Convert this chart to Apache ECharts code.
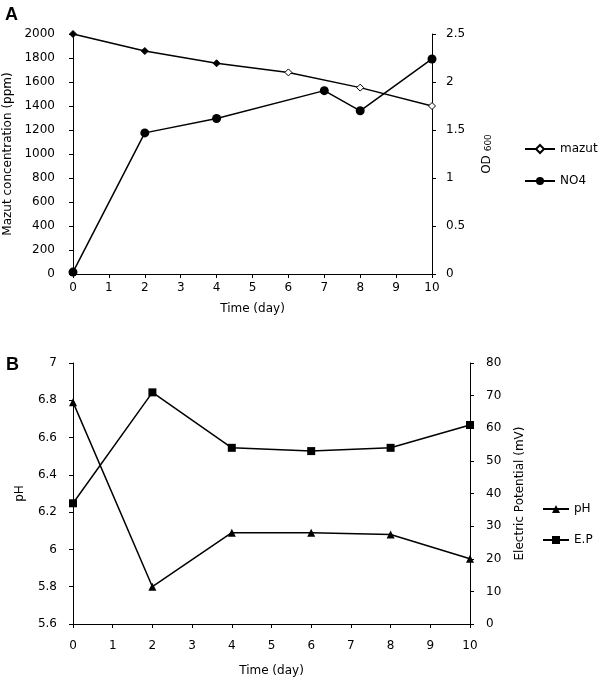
<!DOCTYPE html>
<html>
<head>
<meta charset="utf-8">
<script src="https://cdn.jsdelivr.net/npm/echarts@6/dist/echarts.min.js"></script>
<style>html,body{margin:0;padding:0;background:#fff}#c{width:600px;height:681px}</style>
</head>
<body>
<div id="c"></div>
<script>
// Panel A
var mazutDays = [0, 2, 4, 6, 8, 10];
var mazutPpm = [2000, 1858, 1756, 1680, 1553, 1400];
var no4Days = [0, 2, 4, 7, 8, 10];
var no4OD = [0.02, 1.47, 1.62, 1.91, 1.70, 2.24];
// Panel B
var bDays = [0, 2, 4, 6, 8, 10];
var pH = [6.79, 5.80, 6.09, 6.09, 6.08, 5.95];
var ep = [37, 71, 54, 53, 54, 61];

function pairs(xs, ys) { return xs.map(function (x, i) { return [x, ys[i]]; }); }

var FONT = 'DejaVu Sans';
var txt = { color: '#000', fontFamily: FONT, fontSize: 12 };
var axLine = { show: true, lineStyle: { color: '#000', width: 1 } };
var tick = { show: true, length: 4, lineStyle: { color: '#000' } };
function plain(v) { return String(+v.toFixed(2)); }

function yAxis(grid, pos, min, max, interval, name, gap, margin, extra) {
  var a = {
    type: 'value', gridIndex: grid, position: pos, min: min, max: max, interval: interval,
    name: name, nameLocation: 'middle', nameGap: gap, nameRotate: 90,
    nameTextStyle: Object.assign({}, txt),
    axisLine: axLine, axisTick: tick, splitLine: { show: false },
    axisLabel: Object.assign({ margin: margin, formatter: plain }, txt)
  };
  return Object.assign(a, extra || {});
}

var mazutData = pairs(mazutDays, mazutPpm).map(function (p, i) {
  return i < 3 ? { value: p, itemStyle: { color: '#000' } } : { value: p };
});

var option = {
  backgroundColor: '#fff',
  animation: false,
  graphic: [
    { type: 'text', left: 5, top: 6, style: { text: 'A', font: 'bold 18px Liberation Sans', fill: '#000' } },
    { type: 'text', left: 6, top: 356, style: { text: 'B', font: 'bold 18px Liberation Sans', fill: '#000' } }
  ],
  grid: [
    { left: 73, top: 34, width: 359, height: 240, outerBoundsMode: 'none', containLabel: false },
    { left: 73, top: 363, width: 397, height: 261, outerBoundsMode: 'none', containLabel: false }
  ],
  legend: [
    { orient: 'vertical', left: 519, top: 138, itemWidth: 30, itemHeight: 10, itemGap: 20,
      textStyle: Object.assign({}, txt), data: ['mazut', 'NO4'] },
    { orient: 'vertical', left: 537, top: 498, itemWidth: 26, itemHeight: 10, itemGap: 19,
      textStyle: Object.assign({}, txt), data: ['pH', 'E.P'] }
  ],
  xAxis: [
    { type: 'value', gridIndex: 0, min: 0, max: 10, interval: 1, name: 'Time (day)',
      nameLocation: 'middle', nameGap: 29, nameTextStyle: Object.assign({}, txt),
      axisLine: Object.assign({ onZero: false }, axLine), axisTick: tick, splitLine: { show: false },
      axisLabel: Object.assign({ margin: 8 }, txt) },
    { type: 'value', gridIndex: 1, min: 0, max: 10, interval: 1, name: 'Time (day)',
      nameLocation: 'middle', nameGap: 41, nameTextStyle: Object.assign({}, txt),
      axisLine: Object.assign({ onZero: false }, axLine), axisTick: tick, splitLine: { show: false },
      axisLabel: Object.assign({ margin: 16 }, txt) }
  ],
  yAxis: [
    yAxis(0, 'left', 0, 2000, 200, 'Mazut concentration (ppm)', 58, 18),
    yAxis(0, 'right', 0, 2.5, 0.5, '{a|OD }{b|600}', 49, 14, {
      nameTextStyle: Object.assign({}, txt, { rich: { a: { fontSize: 12, fontFamily: FONT, color: '#000' }, b: { fontSize: 9, fontFamily: FONT, color: '#000', padding: [3, 0, 0, 0] } } })
    }),
    yAxis(1, 'left', 5.6, 7, 0.2, 'pH', 47, 16),
    yAxis(1, 'right', 0, 80, 10, 'Electric Potential (mV)', 44, 16)
  ],
  series: [
    { name: 'mazut', type: 'line', xAxisIndex: 0, yAxisIndex: 0, data: mazutData,
      symbol: 'diamond', symbolSize: 7, lineStyle: { color: '#000', width: 1.5 },
      itemStyle: { color: '#fff', borderColor: '#000', borderWidth: 1 } },
    { name: 'NO4', type: 'line', xAxisIndex: 0, yAxisIndex: 1, data: pairs(no4Days, no4OD),
      symbol: 'circle', symbolSize: 9, lineStyle: { color: '#000', width: 1.5 },
      itemStyle: { color: '#000' } },
    { name: 'pH', type: 'line', xAxisIndex: 1, yAxisIndex: 2, data: pairs(bDays, pH),
      symbol: 'triangle', symbolSize: 8, lineStyle: { color: '#000', width: 1.5 },
      itemStyle: { color: '#000' } },
    { name: 'E.P', type: 'line', xAxisIndex: 1, yAxisIndex: 3, data: pairs(bDays, ep),
      symbol: 'rect', symbolSize: 8, lineStyle: { color: '#000', width: 1.5 },
      itemStyle: { color: '#000' } }
  ]
};
var chart = echarts.init(document.getElementById('c'), null, { renderer: 'canvas' });
chart.setOption(option);
</script>
</body>
</html>
